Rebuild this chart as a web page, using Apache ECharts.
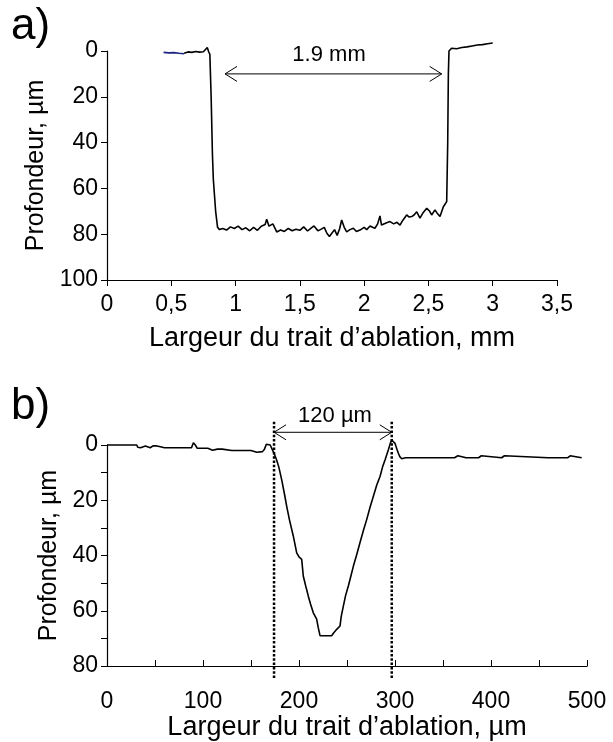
<!DOCTYPE html>
<html><head><meta charset="utf-8">
<script src="https://cdn.jsdelivr.net/npm/echarts@6/dist/echarts.min.js"></script>
<style>html,body{margin:0;padding:0;background:#fff}#c{width:613px;height:742px}</style>
</head><body><div id="c"></div>
<script>
// ---- tick labels ----
const topXLabels = ['0','0,5','1','1,5','2','2,5','3','3,5'];
const topYLabels = ['0','20','40','60','80','100'];
const botXLabels = ['0','100','200','300','400','500'];
const botYLabels = ['0','20','40','60','80'];

// ---- panel a) profile (x in mm, depth in µm) ----
const topBlue = [[0.44,0.6],[0.48,0.8],[0.52,0.7],[0.56,1.0],[0.6,1.2]];
const topBlack = [[0.6,1.0],[0.63,0.4],[0.66,0.6],[0.69,0.2],[0.72,0.5],[0.75,0.3],[0.78,-1.5],[0.79,0.2],[0.80,1.5],[0.81,20],[0.82,45],[0.827,56],[0.845,70],[0.86,77],[0.875,78],[0.9,77.5],[0.93,78.2],[0.96,76.8],[0.99,77.5],[1.02,76.5],[1.05,78.0],[1.08,77.2],[1.11,78.5],[1.14,77.0],[1.17,78.3],[1.2,76.5],[1.23,75.8],[1.242,73.5],[1.26,76.5],[1.29,75.5],[1.32,79.0],[1.35,78.2],[1.38,78.8],[1.41,77.5],[1.44,78.5],[1.47,77.8],[1.5,78.3],[1.53,76.8],[1.56,78.6],[1.59,77.2],[1.61,76.4],[1.64,78.5],[1.66,78.0],[1.69,77.0],[1.71,79.6],[1.73,81.0],[1.75,79.5],[1.77,78.0],[1.79,80.5],[1.81,77.5],[1.825,73.8],[1.845,77.0],[1.864,79.0],[1.89,78.0],[1.916,77.4],[1.94,78.8],[1.968,78.2],[2.0,77.0],[2.02,78.0],[2.046,76.4],[2.066,77.0],[2.084,77.4],[2.105,75.5],[2.123,72.0],[2.135,76.0],[2.149,76.2],[2.175,75.0],[2.201,74.5],[2.23,75.5],[2.255,74.8],[2.279,76.0],[2.30,74.0],[2.331,71.6],[2.35,72.5],[2.37,72.3],[2.39,71.5],[2.409,70.2],[2.434,73.0],[2.46,70.5],[2.487,68.7],[2.51,70.0],[2.525,71.6],[2.551,69.4],[2.57,71.0],[2.59,72.3],[2.616,68.0],[2.642,65.8],[2.65,40],[2.655,10],[2.66,0],[2.68,-1.2],[2.72,-1.0],[2.76,-1.5],[2.8,-1.8],[2.84,-2.2],[2.88,-2.6],[2.92,-2.8],[2.96,-3.2],[3.0,-3.5]];

// ---- panel b) profile (x in µm, depth in µm) ----
const botProfile = [[0,0],[10,0],[20,0],[31,0],[32,0.8],[35,1],[37,0.4],[40,0.4],[42,1],[45,1],[48,0.3],[51,0.3],[52,1],[60,1],[70,1],[80,1],[88,1],[90,-0.8],[92,0],[94,1.2],[100,1.2],[105,1.2],[106,1.9],[110,1.9],[111,1.2],[115,1.5],[120,1.5],[121,2],[130,2],[140,2],[150,2],[152,2.6],[156,2.6],[158,2],[162,2.4],[164,1.5],[166,-0.3],[168,0],[170,0],[172,1.5],[174,3],[176.7,5.4],[179,8],[182,12.6],[185,18],[187.2,22.2],[190,27],[194.1,33],[197.6,39],[200,40.5],[202.8,41.4],[204.5,47.5],[207,51],[209.7,54.7],[212,57.5],[214.9,60.7],[218.4,63],[220,66],[221.9,69],[225,69],[227,68.5],[229,69],[234,69],[236,68],[239.3,66.7],[242.7,65.5],[244,62],[246.2,58.3],[248.5,54.5],[251.4,51],[254,47.5],[256.6,43.9],[260,39.8],[263.5,35.4],[267,31],[270.5,27],[274,22.5],[277.4,18.6],[281,14.5],[284.4,11.4],[287,8],[289.6,5.4],[293,1.8],[295,-0.5],[296.6,-1.8],[298,-1.2],[300,-0.6],[302,1.5],[303.5,3],[305,4.2],[307,5],[309,4.8],[311,4.6],[326,4.6],[326.5,5.2],[327,4.6],[352,4.6],[352.5,5.2],[353,4.6],[362,4.6],[362.5,5.2],[363.2,4.6],[364,3.9],[365.5,3.9],[366,4.6],[374,4.6],[374.5,3.9],[376,3.9],[376.5,4.6],[378,5.2],[378.5,4.6],[387,4.6],[387.5,3.9],[390,3.9],[390.5,4.6],[411,4.6],[411.5,3.9],[414,3.9],[414.5,4.6],[459.5,4.6],[460,5.2],[460.5,4.6],[480,4.6],[480.5,3.9],[482.5,3.9],[483,4.6],[494.5,4.6]];

// ---- annotations (data coordinates) ----
const topArrow = [[0.918, 2.603, 10]];          // [xStart, xEnd, y]
const topArrowText = [[1.727, 1.6, '1.9 mm']];  // [x, y, text]
const botArrow = [[174, 296.6, -4.6]];
const botArrowText = [[237.5, -10.6, '120 µm']];
const botGuides = [[174, -8.4, 84.7], [296.6, -8.4, 84.7]]; // [x, yStart, yEnd]

const FONT = 'Liberation Sans, Arial, Helvetica, sans-serif';
const black = '#000';

function arrowRender(params, api) {
  const p1 = api.coord([api.value(0), api.value(2)]);
  const p2 = api.coord([api.value(1), api.value(2)]);
  const L = 12, W = 7.5;
  const st = {stroke: black, lineWidth: 1, fill: null};
  return {type: 'group', children: [
    {type: 'line', shape: {x1: p1[0], y1: p1[1], x2: p2[0], y2: p2[1]}, style: st},
    {type: 'polyline', shape: {points: [[p1[0]+L, p1[1]-W], [p1[0], p1[1]], [p1[0]+L, p1[1]+W]]}, style: st},
    {type: 'polyline', shape: {points: [[p2[0]-L, p2[1]-W], [p2[0], p2[1]], [p2[0]-L, p2[1]+W]]}, style: st}
  ]};
}
function textRenderFactory(arr) {
  return function (params, api) {
    const p = api.coord([api.value(0), api.value(1)]);
    return {type: 'text', x: p[0], y: p[1], style: {
      text: arr[params.dataIndex][2], fill: black, font: '22px ' + FONT,
      align: 'center', verticalAlign: 'middle'}};
  };
}
function guideRender(params, api) {
  const a = api.coord([api.value(0), api.value(1)]);
  const b = api.coord([api.value(0), api.value(2)]);
  return {type: 'line', shape: {x1: a[0], y1: a[1], x2: b[0], y2: b[1]},
    style: {stroke: black, lineWidth: 2.5, lineDash: [2.5, 1.8]}};
}

const axisLine = {show: true, onZero: false, lineStyle: {color: black, width: 1.2}};
const labelStyle = {color: black, fontSize: 23, fontFamily: FONT};
const xNameStyle = {color: black, fontSize: 27, fontFamily: FONT};
const yNameStyle = {color: black, fontSize: 25, fontFamily: FONT};

const chart = echarts.init(document.getElementById('c'), null, {renderer: 'canvas'});
chart.setOption({
  animation: false,
  backgroundColor: '#fff',
  grid: [
    {left: 107, top: 51, width: 450, height: 229},
    {left: 107, top: 445, width: 480, height: 222}
  ],
  xAxis: [
    {gridIndex: 0, type: 'value', min: 0, max: 3.5, interval: 0.5, position: 'bottom',
     axisLine: axisLine, splitLine: {show: false},
     axisTick: {show: true, inside: false, length: 6, lineStyle: {color: black}},
     axisLabel: Object.assign({margin: 13, formatter: v => topXLabels[Math.round(v / 0.5)]}, labelStyle),
     name: 'Largeur du trait d\u2019ablation, mm', nameLocation: 'middle', nameGap: 45, nameTextStyle: xNameStyle},
    {gridIndex: 1, type: 'value', min: 0, max: 500, interval: 100, position: 'bottom',
     axisLine: axisLine, splitLine: {show: false},
     axisTick: {show: true, inside: true, length: 6, lineStyle: {color: black}},
     minorTick: {show: true, splitNumber: 2, length: 6, lineStyle: {color: black}},
     axisLabel: Object.assign({margin: 24, formatter: v => botXLabels[Math.round(v / 100)]}, labelStyle),
     name: 'Largeur du trait d\u2019ablation, \u00b5m', nameLocation: 'middle', nameGap: 45, nameTextStyle: xNameStyle}
  ],
  yAxis: [
    {gridIndex: 0, type: 'value', min: 0, max: 100, interval: 20, inverse: true,
     axisLine: axisLine, splitLine: {show: false},
     axisTick: {show: true, inside: false, length: 6, lineStyle: {color: black}},
     axisLabel: Object.assign({margin: 9, formatter: v => topYLabels[Math.round(v / 20)]}, labelStyle),
     name: 'Profondeur, \u00b5m', nameLocation: 'middle', nameGap: 45, nameRotate: 90, nameTextStyle: yNameStyle},
    {gridIndex: 1, type: 'value', min: 0, max: 80, interval: 20, inverse: true,
     axisLine: axisLine, splitLine: {show: false},
     axisTick: {show: true, inside: false, length: 6, lineStyle: {color: black}},
     minorTick: {show: true, splitNumber: 2, length: 6, lineStyle: {color: black}},
     axisLabel: Object.assign({margin: 9, formatter: v => botYLabels[Math.round(v / 20)]}, labelStyle),
     name: 'Profondeur, \u00b5m', nameLocation: 'middle', nameGap: 45, nameRotate: 90, nameTextStyle: yNameStyle}
  ],
  graphic: [
    {type: 'text', left: 11, top: 5, style: {text: 'a)', fill: black, font: '44px ' + FONT}},
    {type: 'text', left: 11, top: 385, style: {text: 'b)', fill: black, font: '44px ' + FONT}}
  ],
  series: [
    {type: 'line', xAxisIndex: 0, yAxisIndex: 0, data: topBlue, showSymbol: false, clip: false,
     lineStyle: {color: '#1a2580', width: 1.6}},
    {type: 'line', xAxisIndex: 0, yAxisIndex: 0, data: topBlack, showSymbol: false, clip: false,
     lineStyle: {color: black, width: 1.6}},
    {type: 'custom', xAxisIndex: 0, yAxisIndex: 0, data: topArrow, renderItem: arrowRender, clip: false, silent: true},
    {type: 'custom', xAxisIndex: 0, yAxisIndex: 0, data: topArrowText.map(d => [d[0], d[1]]), renderItem: textRenderFactory(topArrowText), clip: false, silent: true},
    {type: 'line', xAxisIndex: 1, yAxisIndex: 1, data: botProfile, showSymbol: false, clip: false,
     lineStyle: {color: black, width: 1.6}},
    {type: 'custom', xAxisIndex: 1, yAxisIndex: 1, data: botGuides, renderItem: guideRender, clip: false, silent: true},
    {type: 'custom', xAxisIndex: 1, yAxisIndex: 1, data: botArrow, renderItem: arrowRender, clip: false, silent: true},
    {type: 'custom', xAxisIndex: 1, yAxisIndex: 1, data: botArrowText.map(d => [d[0], d[1]]), renderItem: textRenderFactory(botArrowText), clip: false, silent: true}
  ]
});
</script></body></html>
